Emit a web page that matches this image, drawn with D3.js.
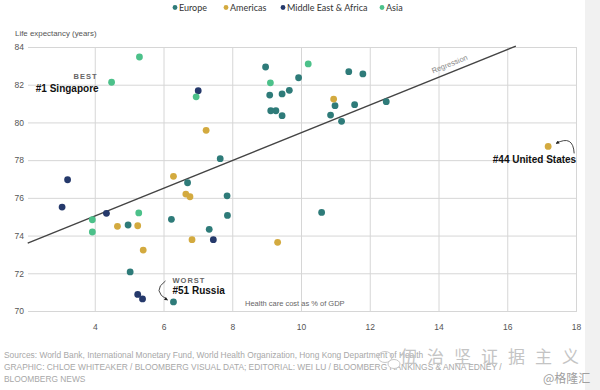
<!DOCTYPE html>
<html><head><meta charset="utf-8">
<script src="https://cdn.jsdelivr.net/npm/d3@7"></script>
<style>body{margin:0;background:#fff}svg{display:block}</style>
</head><body><svg id="c" width="600" height="390"></svg>
<script>
// ---- data ----
const regions = ["Europe", "Americas", "Middle East & Africa", "Asia"];
const regionColors = ["#2e7b79", "#d3aa3f", "#25396b", "#4cc18a"];

const europeCost = [8.97, 11.39, 11.80, 9.93, 9.09, 9.45, 9.66, 10.99, 11.56, 12.48, 9.12, 9.27, 9.45, 10.86, 11.18, 7.65, 6.70, 7.85, 7.86, 10.60, 7.33, 4.97, 6.23, 5.03, 6.29];
const europeLife = [82.94, 82.69, 82.57, 82.37, 81.45, 81.51, 81.70, 80.89, 80.94, 81.10, 80.62, 80.62, 80.36, 80.39, 80.06, 78.08, 76.80, 76.11, 75.07, 75.23, 74.33, 74.56, 74.86, 72.07, 70.48];

const americasCost = [10.95, 7.24, 6.29, 6.65, 6.77, 4.66, 5.25, 5.41, 6.83, 9.32, 17.19];
const americasLife = [81.24, 79.58, 77.14, 76.20, 76.06, 74.49, 74.52, 73.23, 73.78, 73.64, 78.73];

const meaCost = [7.01, 3.21, 3.05, 4.34, 5.25, 5.39, 7.45];
const meaLife = [81.68, 76.96, 75.51, 75.18, 70.88, 70.64, 73.78];

const asiaCost = [5.30, 4.49, 6.95, 10.21, 9.11, 3.93, 3.93, 5.28];
const asiaLife = [83.47, 82.13, 81.36, 83.10, 82.10, 74.84, 74.19, 75.20];

const regressionX = [2.05, 16.25];
const regressionY = [73.6, 84.05];

const xTicks = [4, 6, 8, 10, 12, 14, 16, 18];
const yTicks = [70, 72, 74, 76, 78, 80, 82, 84];

const yTitle = "Life expectancy (years)";
const xTitle = "Health care cost as % of GDP";
const sourceLines = [
  "Sources: World Bank, International Monetary Fund, World Health Organization, Hong Kong Department of Health",
  "GRAPHIC: CHLOE WHITEAKER / BLOOMBERG VISUAL DATA; EDITORIAL: WEI LU / BLOOMBERG RANKINGS & ANNA EDNEY /",
  "BLOOMBERG NEWS"
];

// ---- build ----
const series = [
  [europeCost, europeLife], [americasCost, americasLife], [meaCost, meaLife], [asiaCost, asiaLife]
];
const points = [];
series.forEach((s, i) => s[0].forEach((c, j) => points.push({cost: c, life: s[1][j], region: regions[i]})));

const svg = d3.select("#c");
const color = d3.scaleOrdinal().domain(regions).range(regionColors);
const x = d3.scaleLinear().domain([2, 18]).range([26, 576]);
const y = d3.scaleLinear().domain([70, 84]).range([311, 47]);
const sans = "Liberation Sans, Arial, sans-serif";

// right gray strip
svg.append("rect").attr("x", 585).attr("y", 0).attr("width", 15).attr("height", 390).attr("fill", "#f1f1f1");

// grid + axes
const gy = svg.append("g").attr("transform", "translate(28,0)")
  .call(d3.axisLeft(y).tickValues(yTicks).tickSize(-(577 - 28)).tickPadding(4).tickFormat(d3.format("d")));
const gx = svg.append("g").attr("transform", "translate(0,312)")
  .call(d3.axisBottom(x).tickValues(xTicks).tickSize(-(312 - 47)).tickPadding(12).tickFormat(d3.format("d")));
[gx, gy].forEach(g => {
  g.select(".domain").remove();
  g.selectAll("line").attr("stroke", "#d6d6d6").attr("stroke-width", 1);
  g.selectAll("text").attr("fill", "#555").style("font-family", sans).style("font-size", "8.5px");
});

// regression line
svg.append("path")
  .datum(regressionX.map((v, i) => [v, regressionY[i]]))
  .attr("d", d3.line().x(d => x(d[0])).y(d => y(d[1])))
  .attr("stroke", "#444").attr("stroke-width", 1.4).attr("fill", "none");
const ang = Math.atan2(y(regressionY[1]) - y(regressionY[0]), x(regressionX[1]) - x(regressionX[0])) * 180 / Math.PI;
svg.append("text").attr("transform", `translate(${x(14.35)},${y(82.7) - 5}) rotate(${ang})`)
  .attr("text-anchor", "middle").attr("fill", "#888")
  .style("font-family", sans).style("font-size", "7.5px").text("Regression");

// points
svg.append("g").selectAll("circle").data(points).join("circle")
  .attr("cx", d => x(d.cost)).attr("cy", d => y(d.life)).attr("r", 3.4)
  .attr("fill", d => color(d.region));

// legend
const legX = [175, 226, 283, 382];
const lg = svg.append("g");
regions.forEach((r, i) => {
  lg.append("circle").attr("cx", legX[i]).attr("cy", 7.5).attr("r", 2.4).attr("fill", color(r));
  lg.append("text").attr("x", legX[i] + 4).attr("y", 10.8).attr("fill", "#333")
    .style("font-family", "Lato, sans-serif").style("font-size", "9px").text(r);
});

// titles
svg.append("text").attr("x", 15).attr("y", 36).attr("fill", "#555")
  .style("font-family", sans).style("font-size", "7.9px").text(yTitle);
svg.append("text").attr("x", 245).attr("y", 306).attr("fill", "#666")
  .style("font-family", sans).style("font-size", "7.5px").text(xTitle);

// annotations
const defs = svg.append("defs");
defs.append("marker").attr("id", "ah").attr("viewBox", "0 0 6 6").attr("refX", 5).attr("refY", 3)
  .attr("markerWidth", 4).attr("markerHeight", 4).attr("orient", "auto")
  .append("path").attr("d", "M0,0L6,3L0,6z").attr("fill", "#222");

function label(tx, ty, txt, opts) {
  svg.append("text").attr("x", tx).attr("y", ty).attr("text-anchor", opts.anchor || "start")
    .attr("fill", opts.fill).style("font-family", sans).style("font-weight", "bold")
    .style("font-size", opts.size).style("letter-spacing", opts.ls || "0px").text(txt);
}
// Singapore
const sg = [x(asiaCost[1]), y(asiaLife[1])];
label(sg[0] - 14, sg[1] - 3, "BEST", {anchor: "end", fill: "#666", size: "7.5px", ls: "1px"});
label(sg[0] - 13, sg[1] + 10, "#1 Singapore", {anchor: "end", fill: "#111", size: "10px"});
// Russia
const ru = [x(europeCost[24]), y(europeLife[24])];
label(ru[0] - 1, ru[1] - 19, "WORST", {fill: "#666", size: "7.5px", ls: "1px"});
label(ru[0] - 1, ru[1] - 8, "#51 Russia", {fill: "#111", size: "10px"});
svg.append("path")
  .attr("d", `M${ru[0] - 8},${ru[1] - 21} Q${ru[0] - 22},${ru[1] - 11} ${ru[0] - 6},${ru[1] - 2}`)
  .attr("fill", "none").attr("stroke", "#333").attr("stroke-width", 0.9).attr("marker-end", "url(#ah)");
// US
const us = [x(americasCost[10]), y(americasLife[10])];
label(us[0] + 28, us[1] + 17, "#44 United States", {anchor: "end", fill: "#111", size: "10px"});
svg.append("path")
  .attr("d", `M${us[0] + 26},${us[1] + 7} Q${us[0] + 25},${us[1] - 12} ${us[0] + 8},${us[1] - 3}`)
  .attr("fill", "none").attr("stroke", "#333").attr("stroke-width", 0.9).attr("marker-end", "url(#ah)");

// sources
sourceLines.forEach((t, i) => {
  svg.append("text").attr("x", 4).attr("y", 358 + i * 12).attr("fill", "#a8a8a8")
    .style("font-family", sans).style("font-size", "8.4px").text(t);
});

// watermark
svg.append("ellipse").attr("cx", 385).attr("cy", 357).attr("rx", 7).attr("ry", 5.5)
  .attr("fill", "none").attr("stroke", "#c8c8c8").attr("stroke-width", 1);
svg.append("ellipse").attr("cx", 394).attr("cy", 364).attr("rx", 6).attr("ry", 4.5)
  .attr("fill", "#fff").attr("stroke", "#c8c8c8").attr("stroke-width", 1);
svg.append("text").attr("x", 400).attr("y", 363).attr("fill", "#c4c4c4")
  .style("font-family", "Noto Sans CJK SC, sans-serif").style("font-size", "17px")
  .style("letter-spacing", "10px").text("伍治坚证据主义");
svg.append("text").attr("x", 543).attr("y", 383).attr("fill", "#a0a0a0")
  .style("font-family", "Noto Sans CJK SC, sans-serif").style("font-size", "12px").text("@格隆汇");
</script></body></html>
